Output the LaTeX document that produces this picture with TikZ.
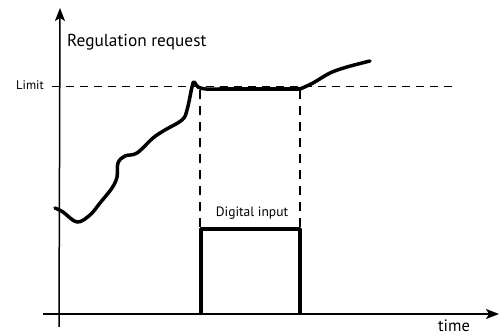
\documentclass[tikz,border=0pt]{standalone}
\usepackage{fontspec}
\setmainfont{PT Sans}
\usetikzlibrary{arrows.meta}
\begin{document}
\begin{tikzpicture}[x=1pt,y=-1pt,
  axis/.style={line width=1.5pt,-{Stealth[length=13pt,width=10pt,inset=3pt]}},
  guide/.style={line width=1pt,dash pattern=on 8pt off 6pt},
  vguide/.style={line width=1.8pt,dash pattern=on 9pt off 7pt},
  signal/.style={line width=3.5pt,line cap=round,line join=round},
  lbl/.style={inner sep=0pt}]
\useasboundingbox (0,0) rectangle (499,336);
% axes
\coordinate (ybot) at (59,327);
\coordinate (ytop) at (60,8);
\coordinate (xleft) at (43,314);
\coordinate (xright) at (499,314);
\draw[axis] (ybot) -- (ytop);
\draw[axis] (xleft) -- (xright);
% labels
\node[lbl,anchor=west,font=\fontsize{17.3}{19}\selectfont] (reg) at (67,42) {Regulation request};
\node[lbl,anchor=east,font=\fontsize{12.5}{14}\selectfont] (limit) at (44,85) {Limit};
\node[lbl,font=\fontsize{16.5}{18}\selectfont] (time) at (454,326) {time};
\node[lbl,font=\fontsize{13.5}{15}\selectfont] (dig) at (252,213) {Digital input};
% limit line
\coordinate (l1) at (52,87);
\coordinate (l2) at (452,87);
\draw[guide] (l1) -- (l2);
% verticals
\coordinate (v1t) at (200,90);
\coordinate (v1b) at (200,228);
\coordinate (v2t) at (300,90);
\coordinate (v2b) at (300,228);
\draw[vguide] (v1t) -- (v1b);
\draw[vguide] (v2t) -- (v2b);
% pulse
\coordinate (p1) at (201,314);
\coordinate (p2) at (201,229);
\coordinate (p3) at (300,229);
\coordinate (p4) at (300,314);
\draw[signal,line cap=butt] (p1) -- (p2) -- (p3) -- (p4);
% regulation curve
\draw[signal] plot[smooth,tension=0.6] coordinates {
 (55,208) (63,212) (77,222) (90,215) (100,203) (112,188) (117,177) (118,163)
 (125,156) (137,153) (153,138) (165,130) (182,120) (187,110) (192,87) (194,82)
 (198,87) (206,89) (220,89)};
\draw[signal] (220,89) -- (300,89);
\draw[signal] plot[smooth,tension=0.6] coordinates {
 (300,89) (313,83) (330,73) (347,67) (370,61)};
\end{tikzpicture}
\end{document}
